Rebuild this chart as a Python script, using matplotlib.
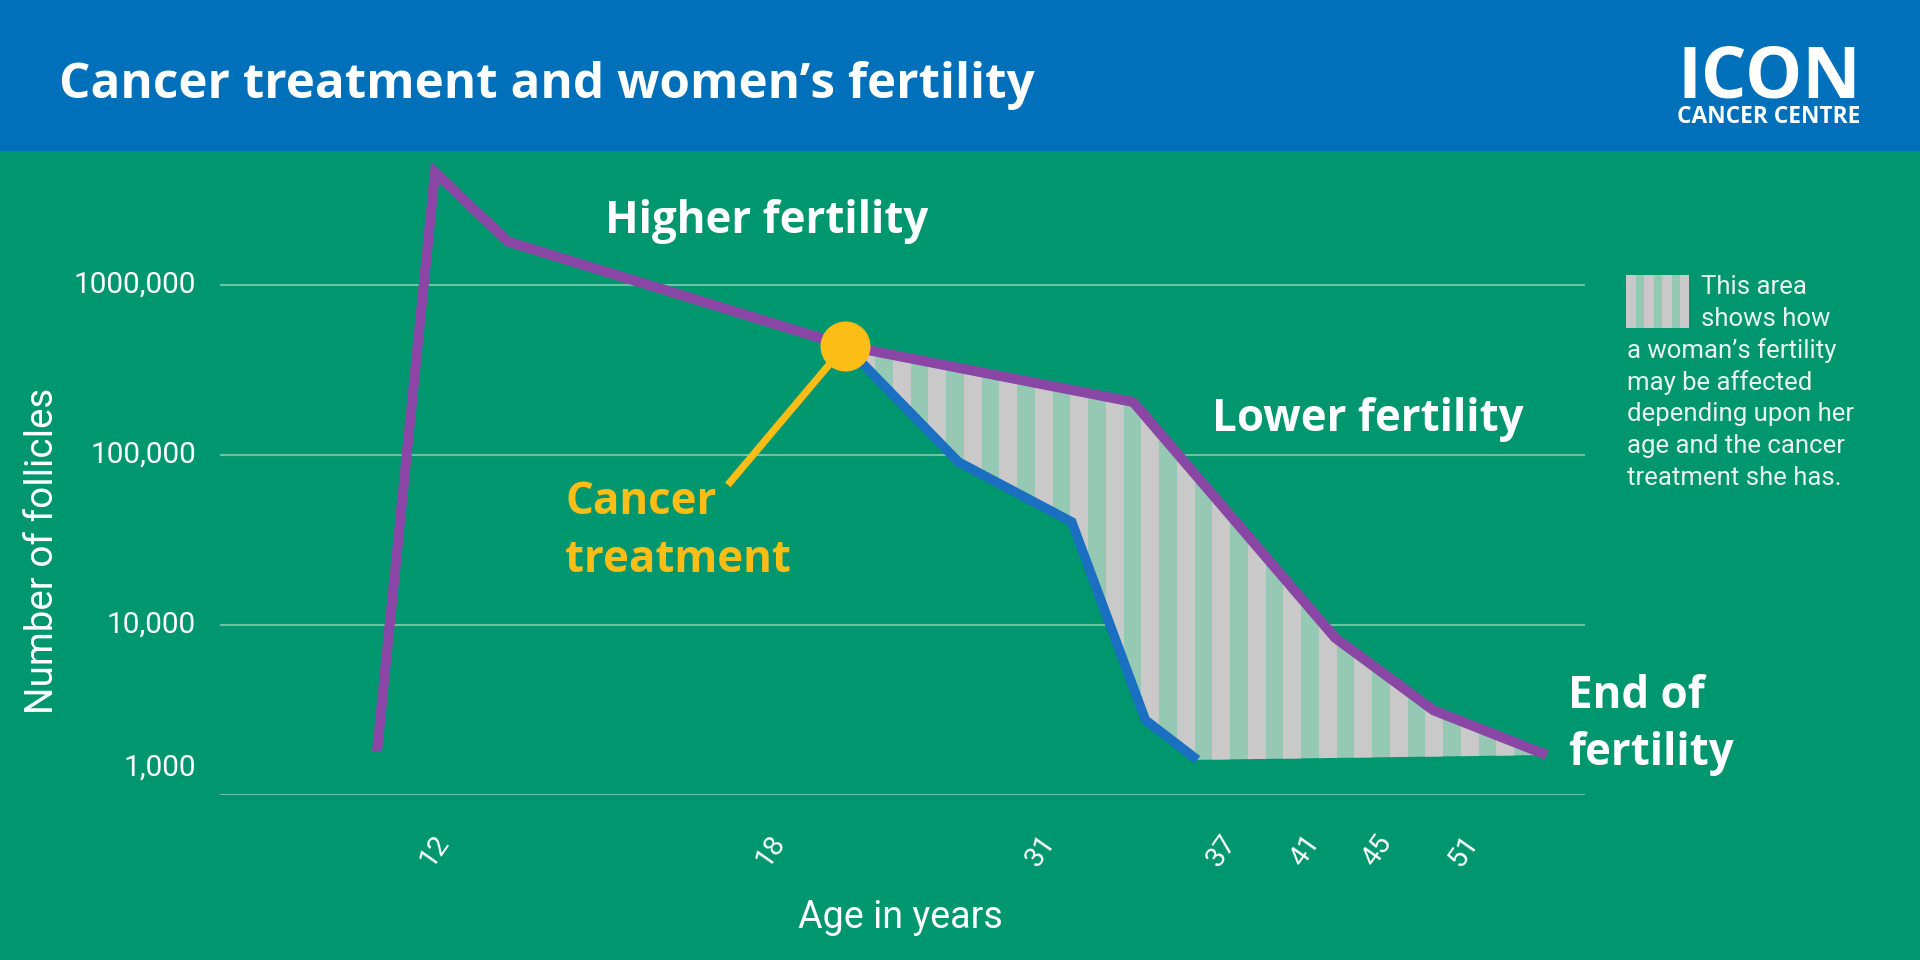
import numpy as np
import matplotlib
matplotlib.use("Agg")
import matplotlib.pyplot as plt
from matplotlib import font_manager
from matplotlib.patches import Polygon, Rectangle
from matplotlib.ticker import NullLocator
import matplotlib.transforms as mtransforms

# --- data (x is a position along the illustrative age axis, 0..100) ---
purple_x = [11.5, 15.75, 21.1, 45.8, 66.9, 81.7, 88.9, 97.2]
purple_y = [1800, 4600000, 1800000, 440000, 205000, 8400, 3150, 1720]

blue_x = [45.8, 54.1, 62.4, 67.8, 71.6]
blue_y = [440000, 91000, 40400, 2760, 1610]

treatment_x = 45.8
treatment_y = 440000
pointer_x = 37.2
pointer_y = 66700

tick_pos = [15.7, 40.3, 60.1, 73.4, 79.5, 84.8, 91.1]
tick_ages = ["12", "18", "31", "37", "41", "45", "51"]

y_ticks = [1e3, 1e4, 1e5, 1e6]
y_labels = ["1,000", "10,000", "100,000", "1000,000"]

legend_lines = ["This area", "shows how", "a woman\u2019s fertility", "may be affected",
                "depending upon her", "age and the cancer", "treatment she has."]

# --- colours ---
GREEN = "#00966e"
HEADER = "#0070bb"
PURPLE = "#8a46a5"
BLUE = "#1b6fc0"
YELLOW = "#fdbd17"
GRID = "#6cc3a4"
STRIPE_GRAY = "#c9c9c9"
STRIPE_MINT = "#95c9b4"
WHITE = "#ffffff"

# --- fonts ---
available = {f.name for f in font_manager.fontManager.ttflist}


def first_font(cands):
    for c in cands:
        if c in available:
            return c
    return "DejaVu Sans"


BOLD_FONT = first_font(["Open Sans", "Roboto", "DejaVu Sans"])
TEXT_FONT = first_font(["Roboto", "Open Sans", "DejaVu Sans"])
BOLD = dict(family=BOLD_FONT, fontweight="bold")
PLAIN = dict(family=TEXT_FONT, fontweight="normal")

W, H = 1920, 960
fig = plt.figure(figsize=(19.2, 9.6), dpi=100, facecolor=GREEN)
renderer = fig.canvas.get_renderer()


def fx(px):
    return px / W


def fy(py):
    return 1 - py / H


def fit_size(text, width_px, **kw):
    # font size that makes `text` about width_px wide
    t = fig.text(0, 0, text, fontsize=20, **kw)
    w = t.get_window_extent(renderer).width
    t.remove()
    return 20 * width_px / w


# header band
fig.patches.append(Rectangle((0, fy(151)), 1, 151 / H, transform=fig.transFigure,
                             facecolor=HEADER, edgecolor="none", zorder=0))
title = "Cancer treatment and women\u2019s fertility"
fig.text(fx(59), fy(86), title, color=WHITE, fontsize=fit_size(title, 974, **BOLD),
         va="center", ha="left", **BOLD)
fig.text(fx(1769), fy(97), "ICON", color=WHITE, fontsize=fit_size("ICON", 184, **BOLD),
         va="baseline", ha="center", **BOLD)
fig.text(fx(1769), fy(105), "CANCER CENTRE", color=WHITE,
         fontsize=fit_size("CANCER CENTRE", 184, **BOLD), va="top", ha="center", **BOLD)

# main axes
ax = fig.add_axes([fx(220), fy(795), (1585 - 220) / W, (795 - 155) / H])
ax.set_facecolor("none")
ax.set_yscale("log")
ax.set_xlim(0, 100)
ax.set_ylim(1e3, 10 ** (6 + 130 / 170))
for s in ax.spines.values():
    s.set_visible(False)

ax.set_yticks(y_ticks)
ax.yaxis.set_minor_locator(NullLocator())
ax.set_yticklabels([])
ax.tick_params(axis="y", length=0)
ax.grid(axis="y", color=GRID, lw=1.5)
ax.set_axisbelow(True)

tick_size = fit_size("1000,000", 123, **PLAIN)

# y labels drawn as text (the bottom one sits a bit above its line)
ytrans = mtransforms.blended_transform_factory(ax.transAxes, ax.transData)
for v, lbl in zip(y_ticks, y_labels):
    dy = 27 if v == 1e3 else 0
    t = ytrans + mtransforms.ScaledTranslation(0, dy / 100, fig.dpi_scale_trans)
    ax.text(-24 / 1365, v, lbl, transform=t, ha="right", va="center",
            color=WHITE, fontsize=tick_size, **PLAIN)

ax.set_xticks(tick_pos)
ax.set_xticklabels(tick_ages, rotation=55, rotation_mode="anchor", ha="center", va="center",
                   color=WHITE, fontsize=tick_size * 0.95, **PLAIN)
ax.tick_params(axis="x", length=0, pad=40)

ylab = "Number of follicles"
fig.text(fx(43), fy(551), ylab, rotation=90, color=WHITE,
         fontsize=fit_size(ylab, 326, **PLAIN), ha="center", va="center", **PLAIN)
xlab = "Age in years"
fig.text(fx(900), fy(918), xlab, color=WHITE,
         fontsize=fit_size(xlab, 204, **PLAIN), ha="center", va="center", **PLAIN)

# shaded area between the two curves
shade_pts = list(zip(purple_x[3:], purple_y[3:])) + list(zip(blue_x[::-1], blue_y[::-1]))
shade = Polygon(shade_pts, closed=True, transform=ax.transData, facecolor=STRIPE_MINT,
                edgecolor="none", zorder=2)
ax.add_patch(shade)
for x0 in np.arange(49.3 - 2 * 2.6, 99, 2.6):
    band = ax.axvspan(x0, x0 + 1.3, color=STRIPE_GRAY, lw=0, zorder=2.1)
    band.set_clip_path(shade)

# lines
ax.plot(blue_x, blue_y, color=BLUE, lw=6.8, solid_joinstyle="miter",
        solid_capstyle="butt", zorder=3)
ax.plot(purple_x, purple_y, color=PURPLE, lw=7.2, solid_joinstyle="miter",
        solid_capstyle="butt", zorder=4)

# cancer treatment marker + pointer
ax.plot([pointer_x, treatment_x], [pointer_y, treatment_y], color=YELLOW, lw=5.2,
        solid_capstyle="butt", zorder=5)
ax.plot([treatment_x], [treatment_y], "o", color=YELLOW, ms=36, mec="none", zorder=6)

# annotations
ann_size = fit_size("Higher fertility", 324, **BOLD)
ann = dict(color=WHITE, fontsize=ann_size, va="center", ha="left", **BOLD)
fig.text(fx(605), fy(221), "Higher fertility", **ann)
fig.text(fx(1212), fy(419), "Lower fertility", **ann)
fig.text(fx(1568), fy(697), "End of", **ann)
fig.text(fx(1568), fy(754), "fertility", **ann)
ann["color"] = YELLOW
fig.text(fx(565), fy(502), "Cancer", **ann)
fig.text(fx(565), fy(560), "treatment", **ann)

# legend swatch
lax = fig.add_axes([fx(1626), fy(328), 63 / W, 53 / H])
lax.set_xlim(0, 3.5)
lax.set_ylim(0, 1)
lax.add_patch(Rectangle((0, 0), 3.5, 1, facecolor=STRIPE_MINT, lw=0, zorder=0))
lax.bar(np.arange(4), 1, width=0.55, color=STRIPE_GRAY, align="edge", zorder=1)
lax.axis("off")

leg_size = fit_size(legend_lines[2], 209, **PLAIN)
for i, line in enumerate(legend_lines):
    x = 1701 if i < 2 else 1627
    fig.text(fx(x), fy(287 + 31.8 * i), line, color="#e8f3ee", fontsize=leg_size,
             ha="left", va="center", **PLAIN)

fig.savefig("out.png", dpi=100, facecolor=GREEN)
